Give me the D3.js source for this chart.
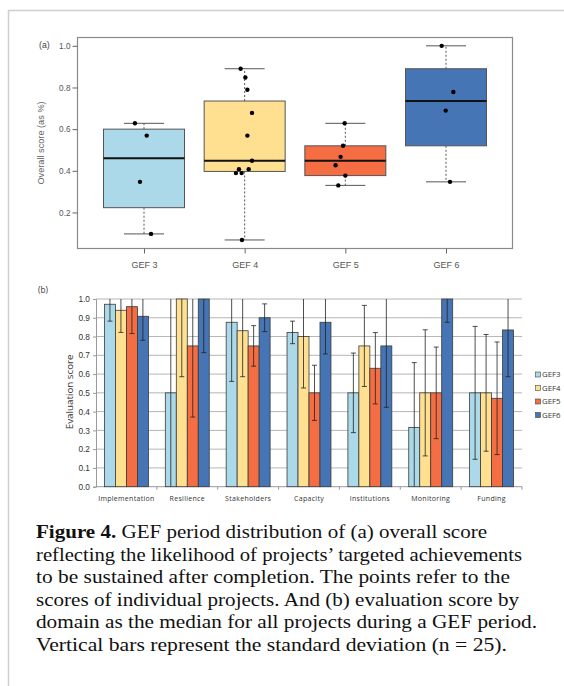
<!DOCTYPE html>
<html><head><meta charset="utf-8">
<script src="https://cdn.jsdelivr.net/npm/d3@7"></script>
<style>
html,body{margin:0;padding:0;background:#fff;}
svg{display:block;}
</style></head>
<body>
<svg id="chart" width="564" height="686"></svg>
<script>
// ---------- Panel (a) data: box plot ----------
const gefLabels = ["GEF 3", "GEF 4", "GEF 5", "GEF 6"];
const boxQ1 = [0.223, 0.397, 0.377, 0.52];
const boxMedian = [0.46, 0.448, 0.448, 0.735];
const boxQ3 = [0.60, 0.735, 0.52, 0.89];
const whiskerLow = [0.097, 0.068, 0.33, 0.347];
const whiskerHigh = [0.628, 0.89, 0.628, 1.0];
const pointsGEF3 = [0.628, 0.569, 0.347, 0.097];
const pointsGEF4 = [0.89, 0.848, 0.789, 0.678, 0.569, 0.448, 0.408, 0.408, 0.389, 0.389, 0.068];
const pointsGEF5 = [0.628, 0.52, 0.467, 0.427, 0.377, 0.33];
const pointsGEF6 = [1.0, 0.778, 0.689, 0.347];
// horizontal jitter of points, as a fraction of the group spacing
const jitterGEF3 = [-0.09, 0.027, -0.04, 0.07];
const jitterGEF4 = [-0.04, 0.007, 0.027, 0.073, 0.027, 0.073, -0.057, 0.04, -0.087, -0.03, -0.027];
const jitterGEF5 = [-0.007, -0.023, -0.047, -0.097, 0.0, -0.07];
const jitterGEF6 = [-0.043, 0.073, -0.003, 0.04];
const yTicksA = [0.2, 0.4, 0.6, 0.8, 1.0];

// ---------- Panel (b) data: grouped bars ----------
const domains = ["Implementation", "Resilience", "Stakeholders", "Capacity", "Institutions", "Monitoring", "Funding"];
const seriesNames = ["GEF3", "GEF4", "GEF5", "GEF6"];
const valGEF3 = [0.972, 0.50, 0.876, 0.822, 0.50, 0.316, 0.50];
const valGEF4 = [0.94, 1.0, 0.831, 0.80, 0.75, 0.50, 0.50];
const valGEF5 = [0.959, 0.75, 0.75, 0.50, 0.631, 0.50, 0.471];
const valGEF6 = [0.908, 1.0, 0.90, 0.876, 0.75, 1.0, 0.835];
const sdGEF3 = [0.09, 0.60, 0.315, 0.06, 0.212, 0.345, 0.354];
const sdGEF4 = [0.118, 0.414, 0.245, 0.274, 0.216, 0.336, 0.311];
const sdGEF5 = [0.143, 0.379, 0.108, 0.147, 0.19, 0.244, 0.30];
const sdGEF6 = [0.128, 0.286, 0.074, 0.169, 0.327, 0.124, 0.249];
const yTicksB = [0, 0.1, 0.2, 0.3, 0.4, 0.5, 0.6, 0.7, 0.8, 0.9, 1.0];

const colors = ["#abd9e9", "#fee090", "#f46d43", "#4575b4"];

const captionLines = [
  ["Figure 4.", " GEF period distribution of (a) overall score"],
  ["", "reflecting the likelihood of projects\u2019 targeted achievements"],
  ["", "to be sustained after completion. The points refer to the"],
  ["", "scores of individual projects. And (b) evaluation score by"],
  ["", "domain as the median for all projects during a GEF period."],
  ["", "Vertical bars represent the standard deviation (n = 25)."]
];
const captionWidths = [451, 486, 474, 483, 501, 471];

const svg = d3.select("#chart");

// figure frame
svg.append("path").attr("d", "M8.5,686 L8.5,10.5 L564,10.5")
  .attr("fill", "none").attr("stroke", "#cfcfcf").attr("stroke-width", 1.5);

// ================= Panel (a) =================
const A = {left: 77.5, right: 512.5, top: 37.5, bottom: 248.5};
const ya = d3.scaleLinear().domain([0.027, 1.04]).range([A.bottom, A.top]);
const xa = d3.scalePoint().domain(gefLabels).range([144, 446]);
const step = xa.step();
const boxW = 81, capW = 40;
const gA = svg.append("g").attr("font-family", "'Liberation Sans', Arial, sans-serif");

gA.append("rect").attr("x", A.left).attr("y", A.top)
  .attr("width", A.right - A.left).attr("height", A.bottom - A.top)
  .attr("fill", "none").attr("stroke", "#8a8a8a").attr("stroke-width", 1.2);

const yAxisA = gA.append("g").attr("transform", `translate(${A.left},0)`)
  .call(d3.axisLeft(ya).tickValues(yTicksA).tickFormat(d3.format(".1f")).tickSize(5).tickPadding(2));
yAxisA.select(".domain").remove();
yAxisA.selectAll("line").attr("stroke", "#666");
yAxisA.selectAll("text").attr("font-size", 8.2).attr("fill", "#555");

const xAxisA = gA.append("g").attr("transform", `translate(0,${A.bottom})`)
  .call(d3.axisBottom(xa).tickSize(5).tickPadding(8));
xAxisA.select(".domain").remove();
xAxisA.selectAll("line").attr("stroke", "#666");
xAxisA.selectAll("text").attr("font-size", 9).attr("fill", "#555");

gA.append("text").attr("x", 39).attr("y", 48).attr("font-size", 8.7).attr("fill", "#444").text("(a)");
gA.append("text").attr("transform", `translate(44,143) rotate(-90)`)
  .attr("text-anchor", "middle").attr("font-size", 9.2).attr("fill", "#666").text("Overall score (as %)");

const allPoints = [pointsGEF3, pointsGEF4, pointsGEF5, pointsGEF6];
const allJitter = [jitterGEF3, jitterGEF4, jitterGEF5, jitterGEF6];
gefLabels.forEach((lab, i) => {
  const cx = xa(lab);
  const g = gA.append("g");
  g.append("line").attr("x1", cx).attr("x2", cx).attr("y1", ya(boxQ3[i])).attr("y2", ya(whiskerHigh[i]))
    .attr("stroke", "#444").attr("stroke-dasharray", "2,2").attr("stroke-width", 0.9);
  g.append("line").attr("x1", cx).attr("x2", cx).attr("y1", ya(boxQ1[i])).attr("y2", ya(whiskerLow[i]))
    .attr("stroke", "#444").attr("stroke-dasharray", "2,2").attr("stroke-width", 0.9);
  [whiskerLow[i], whiskerHigh[i]].forEach(v => {
    g.append("line").attr("x1", cx - capW / 2).attr("x2", cx + capW / 2).attr("y1", ya(v)).attr("y2", ya(v))
      .attr("stroke", "#555").attr("stroke-width", 1);
  });
  g.append("rect").attr("x", cx - boxW / 2).attr("y", ya(boxQ3[i]))
    .attr("width", boxW).attr("height", ya(boxQ1[i]) - ya(boxQ3[i]))
    .attr("fill", colors[i]).attr("stroke", "#555").attr("stroke-width", 1);
  g.append("line").attr("x1", cx - boxW / 2).attr("x2", cx + boxW / 2)
    .attr("y1", ya(boxMedian[i])).attr("y2", ya(boxMedian[i]))
    .attr("stroke", "#111").attr("stroke-width", 2);
  allPoints[i].forEach((v, j) => {
    g.append("circle").attr("cx", cx + allJitter[i][j] * step).attr("cy", ya(v)).attr("r", 2.2).attr("fill", "#000");
  });
});

// ================= Panel (b) =================
const B = {left: 96, right: 522, top: 299, bottom: 486.7};
const yb = d3.scaleLinear().domain([0, 1]).range([B.bottom, B.top]);
const x0 = d3.scaleBand().domain(domains).range([B.left, B.right]).padding(0);
const x1 = d3.scaleBand().domain(seriesNames).range([0, x0.bandwidth()]).paddingInner(0).paddingOuter(0.77);
const gB = svg.append("g").attr("font-family", "'Open Sans', 'Liberation Sans', sans-serif");

gB.append("g").selectAll("line").data(yTicksB.filter(d => d > 0)).join("line")
  .attr("x1", B.left).attr("x2", B.right).attr("y1", d => yb(d)).attr("y2", d => yb(d))
  .attr("stroke", "#b5b5b5").attr("stroke-width", 1);

const yAxisB = gB.append("g").attr("transform", `translate(${B.left},0)`)
  .call(d3.axisLeft(yb).tickValues(yTicksB).tickFormat(d3.format(".1f")).tickSize(3).tickPadding(3));
yAxisB.select(".domain").attr("stroke", "#999");
yAxisB.selectAll("line").attr("stroke", "#999");
yAxisB.selectAll("text").attr("font-size", 8.3).attr("fill", "#333");

gB.append("line").attr("x1", B.left).attr("x2", B.right).attr("y1", B.bottom).attr("y2", B.bottom)
  .attr("stroke", "#999");
gB.append("g").selectAll("line").data(domains).join("line")
  .attr("x1", d => x0(d) + x0.bandwidth()).attr("x2", d => x0(d) + x0.bandwidth())
  .attr("y1", B.bottom).attr("y2", B.bottom + 3).attr("stroke", "#999");
gB.append("g").selectAll("text").data(domains).join("text")
  .attr("x", d => x0(d) + x0.bandwidth() / 2).attr("y", B.bottom + 14.5)
  .attr("text-anchor", "middle").attr("font-size", 7).attr("letter-spacing", 0.3).attr("fill", "#333").text(d => d);

gB.append("text").attr("x", 38).attr("y", 293).attr("font-size", 8.3).attr("fill", "#333").text("(b)");
gB.append("text").attr("transform", `translate(72.5,${(B.top + B.bottom) / 2 - 1}) rotate(-90)`)
  .attr("text-anchor", "middle").attr("font-size", 9.8).attr("fill", "#333").text("Evaluation score");

const allVals = [valGEF3, valGEF4, valGEF5, valGEF6];
const allSd = [sdGEF3, sdGEF4, sdGEF5, sdGEF6];
const barsG = gB.append("g");
const errG = gB.append("g");
domains.forEach((dom, di) => {
  seriesNames.forEach((s, si) => {
    const v = allVals[si][di], sd = allSd[si][di];
    const bx = x0(dom) + x1(s), bw = x1.bandwidth();
    barsG.append("rect").attr("x", bx).attr("y", yb(v)).attr("width", bw).attr("height", yb(0) - yb(v))
      .attr("fill", colors[si]).attr("stroke", "#3a3a3a").attr("stroke-width", 0.8);
    const lo = v - sd, hi = v + sd;
    const cx = bx + bw / 2;
    errG.append("line").attr("x1", cx).attr("x2", cx)
      .attr("y1", yb(Math.max(0, lo))).attr("y2", yb(Math.min(1, hi)))
      .attr("stroke", "#222").attr("stroke-width", 0.8);
    if (lo > 0) errG.append("line").attr("x1", cx - 2.5).attr("x2", cx + 2.5).attr("y1", yb(lo)).attr("y2", yb(lo))
      .attr("stroke", "#222").attr("stroke-width", 0.8);
    if (hi < 1) errG.append("line").attr("x1", cx - 2.5).attr("x2", cx + 2.5).attr("y1", yb(hi)).attr("y2", yb(hi))
      .attr("stroke", "#222").attr("stroke-width", 0.8);
  });
});

const leg = gB.append("g");
const legY = d3.scalePoint().domain(seriesNames).range([374.5, 415]);
seriesNames.forEach((s, i) => {
  leg.append("rect").attr("x", 535.5).attr("y", legY(s) - 2.5).attr("width", 5).attr("height", 5)
    .attr("fill", colors[i]).attr("stroke", "#444").attr("stroke-width", 0.6);
  leg.append("text").attr("x", 542).attr("y", legY(s) + 2.8).attr("font-size", 7.8).attr("fill", "#333").text(s);
});

// ================= Caption =================
const cap = svg.append("g").attr("font-family", "'Liberation Serif', 'Times New Roman', serif")
  .attr("font-size", 18.8).attr("fill", "#111");
captionLines.forEach((ln, i) => {
  const t = cap.append("text").attr("x", 36).attr("y", 538 + i * 22.5)
    .attr("textLength", captionWidths[i]).attr("lengthAdjust", "spacingAndGlyphs");
  if (ln[0]) t.append("tspan").attr("font-weight", "bold").text(ln[0]);
  t.append("tspan").text(ln[1]);
});
</script>
</body></html>
